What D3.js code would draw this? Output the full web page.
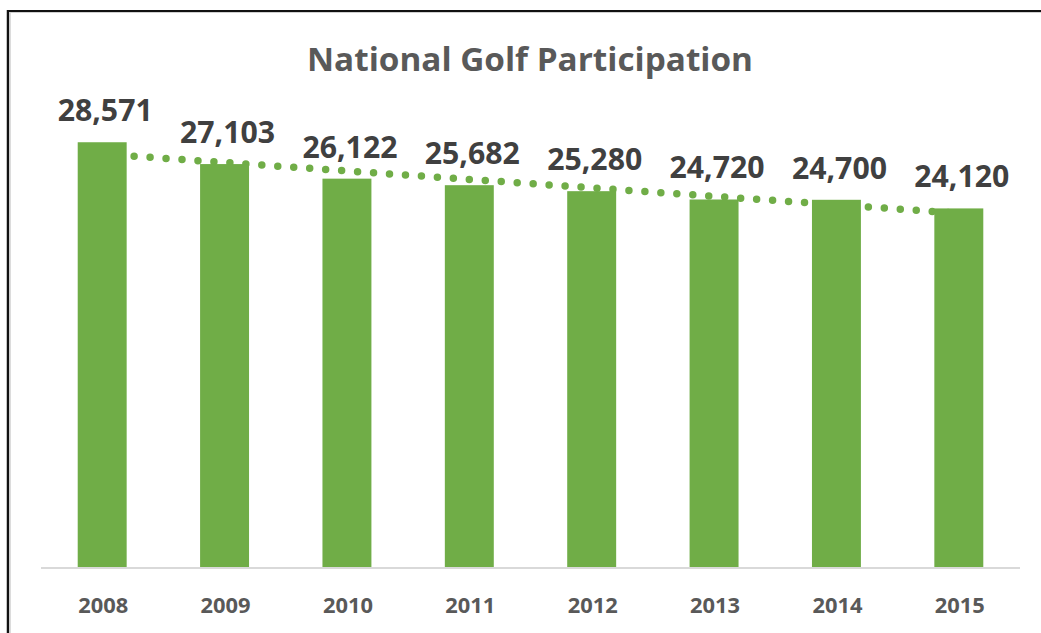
<!DOCTYPE html>
<html>
<head>
<meta charset="utf-8">
<script src="https://cdn.jsdelivr.net/npm/d3@7"></script>
<style>
  html, body { margin: 0; padding: 0; background: #fff; }
  svg { display: block; }
</style>
</head>
<body>
<svg id="chart" width="1041" height="633"></svg>
<script>
// Series data
const years = ["2008", "2009", "2010", "2011", "2012", "2013", "2014", "2015"];
const participants = [28571, 27103, 26122, 25682, 25280, 24720, 24700, 24120];
const chartTitle = "National Golf Participation";

const W = 1041, H = 633;
const green = "#70AD47";
const labelFont = "'Open Sans', 'DejaVu Sans', sans-serif";

const svg = d3.select("#chart");

// Chart frame (top and left edges visible)
svg.append("line").attr("x1", 7.5).attr("x2", W).attr("y1", 11).attr("y2", 11)
  .attr("stroke", "#111").attr("stroke-width", 2);
svg.append("line").attr("x1", 8).attr("x2", 8).attr("y1", 10).attr("y2", H)
  .attr("stroke", "#111").attr("stroke-width", 2.5);
svg.append("line").attr("x1", 9).attr("x2", W).attr("y1", 12.5).attr("y2", 12.5)
  .attr("stroke", "#d0d0d0").attr("stroke-width", 1);
svg.append("line").attr("x1", 10).attr("x2", 10).attr("y1", 12).attr("y2", H)
  .attr("stroke", "#d0d0d0").attr("stroke-width", 1.5);

// Scales
const x = d3.scaleBand().domain(years).range([41, 1020])
  .paddingInner(0.6).paddingOuter(0.3);
const y = d3.scaleLinear().domain([0, 30000]).range([567, 121]);

// Title
svg.append("text")
  .attr("x", 530).attr("y", 71)
  .attr("text-anchor", "middle")
  .attr("font-family", labelFont).attr("font-weight", 700)
  .attr("font-size", 32).attr("fill", "#595959")
  .attr("textLength", 446).attr("lengthAdjust", "spacingAndGlyphs")
  .text(chartTitle);

// Linear trendline (least squares over category index), drawn behind the bars
const n = participants.length;
const mx = d3.mean(d3.range(n));
const my = d3.mean(participants);
const slope = d3.sum(d3.range(n), i => (i - mx) * (participants[i] - my)) /
              d3.sum(d3.range(n), i => (i - mx) * (i - mx));
const intercept = my - slope * mx;
const trend = [0, n - 1].map(i => [x(years[i]) + x.bandwidth() / 2, y(intercept + slope * i)]);
svg.append("path")
  .attr("d", d3.line()(trend))
  .attr("fill", "none")
  .attr("stroke", green)
  .attr("stroke-width", 7.5)
  .attr("stroke-linecap", "round")
  .attr("stroke-dasharray", "0 16");

// Bars
svg.append("g").selectAll("rect")
  .data(participants)
  .join("rect")
  .attr("x", (d, i) => x(years[i]))
  .attr("y", d => y(d))
  .attr("width", x.bandwidth())
  .attr("height", d => y(0) - y(d))
  .attr("fill", green);

// Category axis
const axis = svg.append("g").attr("transform", `translate(0,${y(0)})`)
  .call(d3.axisBottom(x).tickSize(0).tickPadding(30));
axis.select(".domain").attr("stroke", "#d9d9d9").attr("stroke-width", 2)
  .attr("d", "M41,1H1020");
axis.selectAll("text")
  .attr("font-family", labelFont).attr("font-weight", 700)
  .attr("font-size", 22).attr("fill", "#595959")
  .attr("dy", null).attr("y", 46)
  .attr("dx", 1)
  .attr("textLength", 50).attr("lengthAdjust", "spacingAndGlyphs");

// Value labels
const fmt = d3.format(",");
svg.append("g").selectAll("text")
  .data(participants)
  .join("text")
  .attr("x", (d, i) => x(years[i]) + x.bandwidth() / 2 + 3)
  .attr("y", d => y(d) - 21)
  .attr("text-anchor", "middle")
  .attr("font-family", labelFont).attr("font-weight", 700)
  .attr("font-size", 31).attr("fill", "#404040")
  .attr("textLength", 95).attr("lengthAdjust", "spacingAndGlyphs")
  .text(d => fmt(d));
</script>
</body>
</html>
